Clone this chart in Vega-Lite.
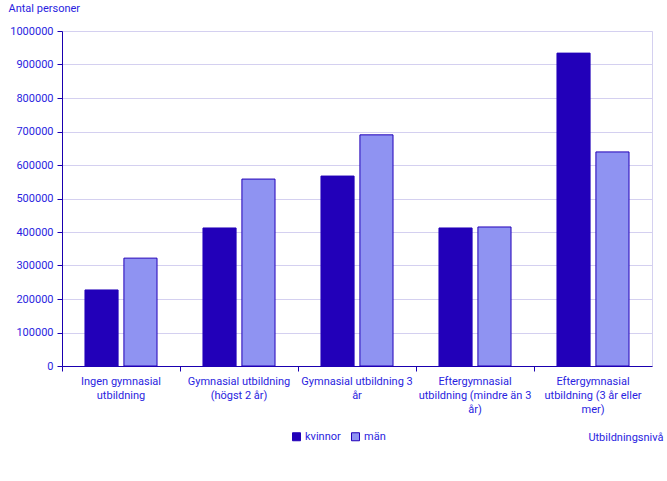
{
  "$schema": "https://vega.github.io/schema/vega-lite/v6.json",
  "width": 590,
  "height": 335,
  "autosize": "none",
  "padding": {"left": 62, "top": 31, "right": 15, "bottom": 115},
  "config": {
    "font": "Roboto",
    "view": {"stroke": "#d4d0f0", "strokeWidth": 1},
    "axis": {"labelFont": "Roboto", "titleFont": "Roboto", "labelFontSize": 11, "titleFontSize": 11, "labelColor": "#2a1ee0", "titleColor": "#2a1ee0", "titleFontWeight": "normal"},
    "legend": {"labelFont": "Roboto", "labelFontSize": 11, "labelColor": "#2a1ee0"}
  },
  "data": {
    "values": [
      {"niva": "Ingen gymnasial utbildning", "kon": "kvinnor", "antal": 227000},
      {"niva": "Ingen gymnasial utbildning", "kon": "män", "antal": 322000},
      {"niva": "Gymnasial utbildning (högst 2 år)", "kon": "kvinnor", "antal": 412000},
      {"niva": "Gymnasial utbildning (högst 2 år)", "kon": "män", "antal": 558000},
      {"niva": "Gymnasial utbildning 3 år", "kon": "kvinnor", "antal": 567000},
      {"niva": "Gymnasial utbildning 3 år", "kon": "män", "antal": 690000},
      {"niva": "Eftergymnasial utbildning (mindre än 3 år)", "kon": "kvinnor", "antal": 412000},
      {"niva": "Eftergymnasial utbildning (mindre än 3 år)", "kon": "män", "antal": 415000},
      {"niva": "Eftergymnasial utbildning (3 år eller mer)", "kon": "kvinnor", "antal": 934000},
      {"niva": "Eftergymnasial utbildning (3 år eller mer)", "kon": "män", "antal": 639000}
    ]
  },
  "mark": {"type": "bar", "stroke": "#2200b9", "strokeWidth": 1},
  "encoding": {
    "x": {
      "field": "niva",
      "type": "nominal",
      "sort": null,
      "scale": {"paddingInner": 0, "paddingOuter": 0},
      "axis": {
        "title": "Utbildningsnivå",
        "titleX": 601,
        "titleY": 71,
        "titleAlign": "right",
        "titleBaseline": "middle",
        "titleAnchor": null,
        "labelAngle": 0,
        "labelAlign": "center",
        "labelBaseline": "top",
        "labelPadding": 4,
        "labelLineHeight": 14,
        "labelOverlap": false,
        "bandPosition": 0,
        "tickSize": 5,
        "domainColor": "#1a00b0",
        "tickColor": "#1a00b0",
        "labelExpr": "datum.value == 'Ingen gymnasial utbildning' ? ['Ingen gymnasial', 'utbildning'] : datum.value == 'Gymnasial utbildning (högst 2 år)' ? ['Gymnasial utbildning', '(högst 2 år)'] : datum.value == 'Gymnasial utbildning 3 år' ? ['Gymnasial utbildning 3', 'år'] : datum.value == 'Eftergymnasial utbildning (mindre än 3 år)' ? ['Eftergymnasial', 'utbildning (mindre än 3', 'år)'] : ['Eftergymnasial', 'utbildning (3 år eller', 'mer)']"
      }
    },
    "xOffset": {
      "field": "kon",
      "type": "nominal",
      "scale": {"paddingInner": 0.15, "paddingOuter": 0.59}
    },
    "y": {
      "field": "antal",
      "type": "quantitative",
      "scale": {"domain": [0, 1000000], "nice": false},
      "axis": {
        "title": "Antal personer",
        "titleAngle": 0,
        "titleX": -54,
        "titleY": -23,
        "titleAlign": "left",
        "titleBaseline": "middle",
        "values": [0, 100000, 200000, 300000, 400000, 500000, 600000, 700000, 800000, 900000, 1000000],
        "format": "d",
        "tickSize": 5,
        "labelPadding": 4,
        "labelOverlap": false,
        "labelFlush": false,
        "domainColor": "#1a00b0",
        "tickColor": "#1a00b0",
        "gridColor": "#d4d0f0",
        "grid": true
      }
    },
    "color": {
      "field": "kon",
      "type": "nominal",
      "scale": {"domain": ["kvinnor", "män"], "range": ["#2200b9", "#8f93f2"]},
      "legend": {
        "title": null,
        "orient": "none",
        "direction": "horizontal",
        "legendX": 229,
        "legendY": 400,
        "symbolType": "square",
        "symbolSize": 64,
        "symbolStrokeColor": "#2200b9",
        "symbolStrokeWidth": 1,
        "symbolOpacity": 1,
        "labelOffset": 3,
        "columnPadding": 8
      }
    }
  }
}
